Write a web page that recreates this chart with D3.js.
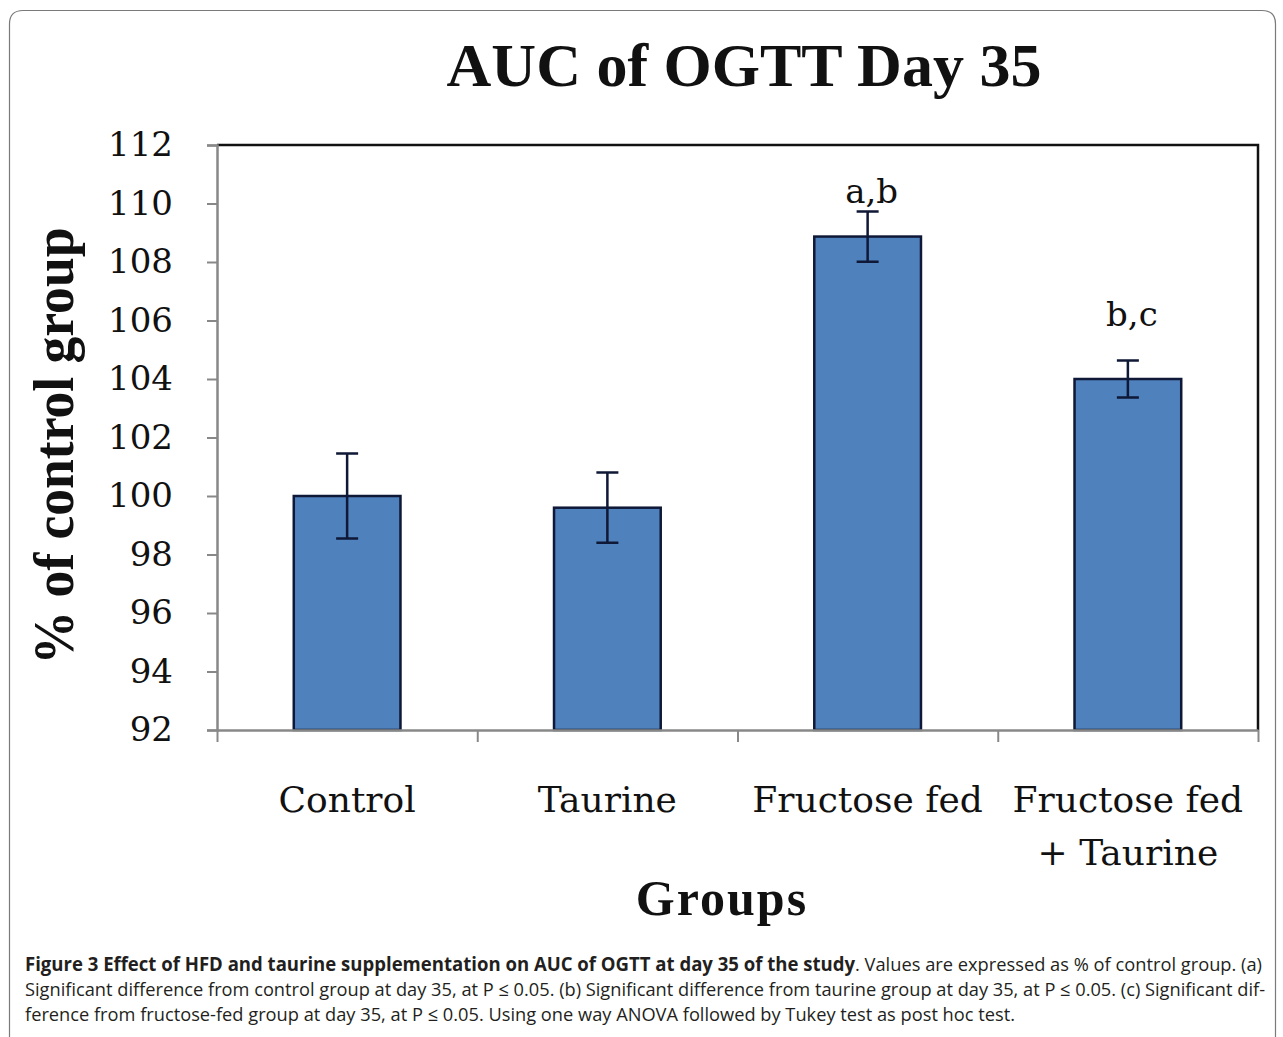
<!DOCTYPE html>
<html>
<head>
<meta charset="utf-8">
<script src="https://cdn.jsdelivr.net/npm/d3@7"></script>
<style>
  body { margin: 0; background: #fff; }
  svg { display: block; }
</style>
</head>
<body>
<script>
// chart values
var groups = ["Control", "Taurine", "Fructose fed", "Fructose fed\n+ Taurine"];
var auc = [100.0, 99.6, 108.87, 104.0];
var sem = [1.45, 1.2, 0.86, 0.63];
var sigLabels = ["", "", "a,b", "b,c"];
var sigLabelAt = [null, null, 110.02, 105.8];
var yTicks = [92, 94, 96, 98, 100, 102, 104, 106, 108, 110, 112];

var captionBold = "Figure 3 Effect of HFD and taurine supplementation on AUC of OGTT at day 35 of the study";
var captionLines = [
    ". Values are expressed as % of control group. (a)",
    "Significant difference from control group at day 35, at P \u2264 0.05. (b) Significant difference from taurine group at day 35, at P \u2264 0.05. (c) Significant dif-",
    "ference from fructose-fed group at day 35, at P \u2264 0.05. Using one way ANOVA followed by Tukey test as post hoc test."
];

function makechart() {
    var width = 1283,
        height = 1037;

    var svg = d3.select("body").append("svg")
        .attr("width", width)
        .attr("height", height);

    // outer frame, rounded at top, runs off the bottom
    svg.append("path")
        .attr("d", "M9.5,1040 V24 Q9.5,10.5 23,10.5 H1262 Q1275.5,10.5 1275.5,24 V1040")
        .attr("fill", "none")
        .attr("stroke", "#7a7a7a")
        .attr("stroke-width", 1.2);

    var pLeft = 217, pRight = 1258, pTop = 145, pBottom = 730;

    var x = d3.scaleBand()
        .domain(groups)
        .range([pLeft, pRight])
        .paddingInner(0.59)
        .paddingOuter(0.295);

    var y = d3.scaleLinear()
        .domain([92, 112])
        .range([pBottom, pTop]);

    // plot border: black top & right
    svg.append("path")
        .attr("d", "M" + pLeft + "," + pTop + " H" + pRight + " V" + pBottom)
        .attr("fill", "none")
        .attr("stroke", "#111")
        .attr("stroke-width", 2.5);

    // bars
    svg.append("g")
        .selectAll("rect")
        .data(groups)
        .enter()
        .append("rect")
        .attr("x", function (d) { return x(d); })
        .attr("y", function (d, i) { return y(auc[i]); })
        .attr("width", x.bandwidth())
        .attr("height", function (d, i) { return y(92) - y(auc[i]); })
        .attr("fill", "#4f81bd")
        .attr("stroke", "#0f1836")
        .attr("stroke-width", 2.5);

    // error bars
    var eb = svg.append("g")
        .attr("stroke", "#0f1836")
        .attr("stroke-width", 2.5)
        .attr("fill", "none");
    groups.forEach(function (g, i) {
        var cx = x(g) + x.bandwidth() / 2;
        var hi = y(auc[i] + sem[i]), lo = y(auc[i] - sem[i]);
        eb.append("path")
            .attr("d", "M" + cx + "," + hi + " V" + lo +
                " M" + (cx - 11) + "," + hi + " H" + (cx + 11) +
                " M" + (cx - 11) + "," + lo + " H" + (cx + 11));
    });

    // y axis
    var yAxis = svg.append("g")
        .attr("transform", "translate(" + pLeft + ",0)")
        .call(d3.axisLeft(y).tickValues(yTicks).tickSize(10).tickPadding(34).tickFormat(d3.format("d")));
    yAxis.select(".domain").attr("stroke", "#888").attr("stroke-width", 2.5);
    yAxis.selectAll(".tick line").attr("stroke", "#888").attr("stroke-width", 2);
    yAxis.selectAll(".tick text")
        .attr("fill", "#111")
        .style("font-family", "'DejaVu Serif', serif")
        .style("font-size", "34px");

    // x axis: ticks at group boundaries
    var xb = d3.scaleLinear().domain([0, groups.length]).range([pLeft, pRight]);
    var xAxis = svg.append("g")
        .attr("transform", "translate(0," + pBottom + ")")
        .call(d3.axisBottom(xb).ticks(groups.length).tickSize(12).tickSizeOuter(0).tickFormat(""));
    xAxis.select(".domain").attr("stroke", "#888").attr("stroke-width", 2.5);
    xAxis.selectAll(".tick line").attr("stroke", "#888").attr("stroke-width", 2);

    // category labels
    var cat = svg.append("g")
        .style("font-family", "'DejaVu Serif', serif")
        .style("font-size", "36px")
        .attr("fill", "#111")
        .attr("text-anchor", "middle");
    groups.forEach(function (g) {
        var t = cat.append("text")
            .attr("x", x(g) + x.bandwidth() / 2)
            .attr("y", 812);
        g.split("\n").forEach(function (line, j) {
            t.append("tspan")
                .attr("x", x(g) + x.bandwidth() / 2)
                .attr("dy", j === 0 ? 0 : 53)
                .text(line);
        });
    });

    // significance letters
    svg.append("g")
        .style("font-family", "'DejaVu Serif', serif")
        .style("font-size", "34px")
        .attr("fill", "#111")
        .attr("text-anchor", "middle")
        .selectAll("text")
        .data(groups.filter(function (d, i) { return sigLabels[i] !== ""; }))
        .enter()
        .append("text")
        .attr("x", function (d) { return x(d) + x.bandwidth() / 2 + 4; })
        .attr("y", function (d) { return y(sigLabelAt[groups.indexOf(d)]); })
        .text(function (d) { return sigLabels[groups.indexOf(d)]; });

    // title
    svg.append("text")
        .attr("x", 744)
        .attr("y", 86)
        .attr("text-anchor", "middle")
        .style("font-family", "'Liberation Serif', serif")
        .style("font-weight", "bold")
        .style("font-size", "62px")
        .attr("fill", "#111")
        .text("AUC of OGTT Day 35");

    // y axis title
    svg.append("text")
        .attr("transform", "translate(73,446) rotate(-90)")
        .attr("text-anchor", "middle")
        .attr("textLength", 437)
        .attr("lengthAdjust", "spacingAndGlyphs")
        .style("font-family", "'Liberation Serif', serif")
        .style("font-weight", "bold")
        .style("font-size", "56px")
        .attr("fill", "#111")
        .text("% of control group");

    // x axis title
    svg.append("text")
        .attr("x", 722)
        .attr("y", 915)
        .attr("text-anchor", "middle")
        .style("font-family", "'Liberation Serif', serif")
        .style("font-weight", "bold")
        .style("font-size", "50px")
        .style("letter-spacing", "2px")
        .attr("fill", "#111")
        .text("Groups");

    // caption (condensed sans, squeezed to the measured line widths)
    var cap = svg.append("g")
        .style("font-family", "'Liberation Sans Narrow', 'Open Sans', sans-serif")
        .style("font-size", "19px")
        .attr("fill", "#231f20");
    cap.append("text")
        .attr("x", 25).attr("y", 971)
        .attr("textLength", 830)
        .attr("lengthAdjust", "spacingAndGlyphs")
        .style("font-weight", "bold")
        .text(captionBold);
    cap.append("text")
        .attr("x", 855).attr("y", 971)
        .attr("textLength", 407)
        .attr("lengthAdjust", "spacingAndGlyphs")
        .text(captionLines[0]);
    cap.append("text")
        .attr("x", 25).attr("y", 996)
        .attr("textLength", 1240)
        .attr("lengthAdjust", "spacingAndGlyphs")
        .text(captionLines[1]);
    cap.append("text")
        .attr("x", 25).attr("y", 1021)
        .attr("textLength", 990)
        .attr("lengthAdjust", "spacingAndGlyphs")
        .text(captionLines[2]);
}

makechart();
</script>
</body>
</html>
